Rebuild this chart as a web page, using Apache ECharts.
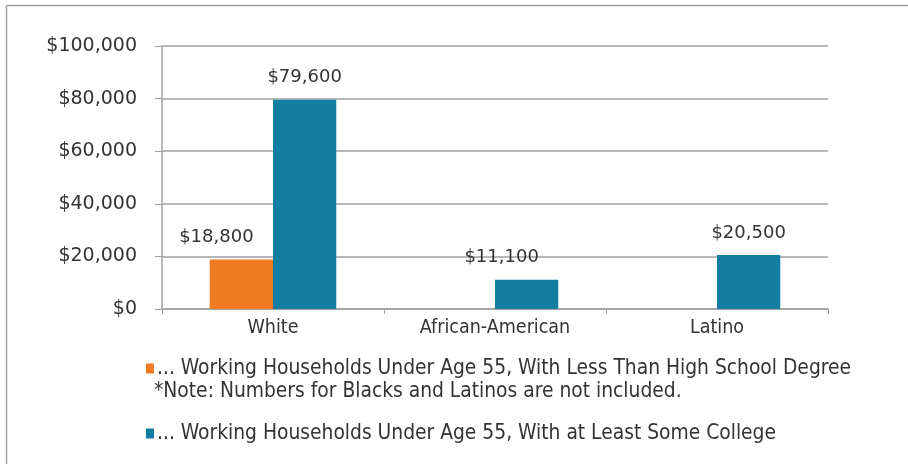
<!DOCTYPE html>
<html>
<head>
<meta charset="utf-8">
<script src="https://cdn.jsdelivr.net/npm/echarts@6/dist/echarts.min.js"></script>
<style>
  html, body { margin: 0; padding: 0; background: #fff; }
  #chart { width: 908px; height: 464px; }
</style>
</head>
<body>
<div id="chart"></div>
<script>
// Median net worth by race, working households under 55
const categories = ['White', 'African-American', 'Latino'];
const lessThanHighSchool = [18800, null, null];
const someCollege = [79600, 11100, 20500];
const seriesNames = [
  '... Working Households Under Age 55, With Less Than High School Degree',
  '... Working Households Under Age 55, With at Least Some College'
];
const noteText = '*Note: Numbers for Blacks and Latinos are not included.';
const yTicks = { min: 0, max: 100000, interval: 20000 };

const FONT = '"DejaVu Sans", sans-serif';
const FONT_NARROW = '"DejaVu Sans Condensed", "DejaVu Sans", sans-serif';
const TXT = '#333333';
const money = v => '$' + Number(v).toLocaleString('en-US');

const chart = echarts.init(document.getElementById('chart'), null, { renderer: 'canvas' });

const barLabel = {
  show: true,
  position: 'top',
  distance: 13,
  color: TXT,
  fontFamily: FONT,
  fontSize: 18,
  formatter: p => money(p.value)
};

// Short bars next to taller neighbours get their value label nudged left
const withLabelShift = (values, shifted) =>
  values.map((v, i) => (shifted.includes(i) && v != null ? { value: v, label: { offset: [-25, 0] } } : v));

chart.setOption({
  backgroundColor: '#ffffff',
  animation: false,
  grid: { left: 162, right: 80, top: 46, bottom: 155 },
  xAxis: {
    type: 'category',
    data: categories,
    axisLine: { lineStyle: { color: '#a0a0a0', width: 1.5 } },
    axisTick: { show: true, length: 5, lineStyle: { color: '#a0a0a0' } },
    axisLabel: { color: TXT, fontFamily: FONT_NARROW, fontSize: 19.5, margin: 9 }
  },
  yAxis: {
    type: 'value',
    min: yTicks.min,
    max: yTicks.max,
    interval: yTicks.interval,
    axisLine: { show: true, lineStyle: { color: '#a0a0a0', width: 1.5 } },
    axisTick: { show: true, length: 7, lineStyle: { color: '#a0a0a0' } },
    splitLine: { lineStyle: { color: '#a0a0a0', width: 1.5 } },
    axisLabel: { color: TXT, fontFamily: FONT, fontSize: 19, margin: 25, formatter: money }
  },
  legend: {
    orient: 'vertical',
    left: 141,
    top: 353,
    icon: 'rect',
    itemWidth: 8,
    itemHeight: 10,
    itemGap: 44,
    textStyle: { color: TXT, fontFamily: FONT_NARROW, fontSize: 20.8, padding: [0, 0, 0, -2] },
    data: seriesNames
  },
  graphic: [
    { type: 'line', shape: { x1: 6.5, y1: 5.5, x2: 908, y2: 5.5 }, style: { stroke: '#a0a0a0', lineWidth: 1.5 } },
    { type: 'line', shape: { x1: 6.5, y1: 5.5, x2: 6.5, y2: 464 }, style: { stroke: '#a0a0a0', lineWidth: 1.5 } },
    { type: 'text', left: 154, top: 381, style: { text: noteText, fill: TXT, font: '20.8px ' + FONT_NARROW } }
  ],
  series: [
    {
      name: seriesNames[0],
      type: 'bar',
      data: withLabelShift(lessThanHighSchool, [0]),
      itemStyle: { color: '#ef7b22' },
      barGap: '0%',
      barCategoryGap: '43%',
      label: barLabel
    },
    {
      name: seriesNames[1],
      type: 'bar',
      data: withLabelShift(someCollege, [1]),
      itemStyle: { color: '#127ea1' },
      barGap: '0%',
      barCategoryGap: '43%',
      label: barLabel
    }
  ]
});
</script>
</body>
</html>
